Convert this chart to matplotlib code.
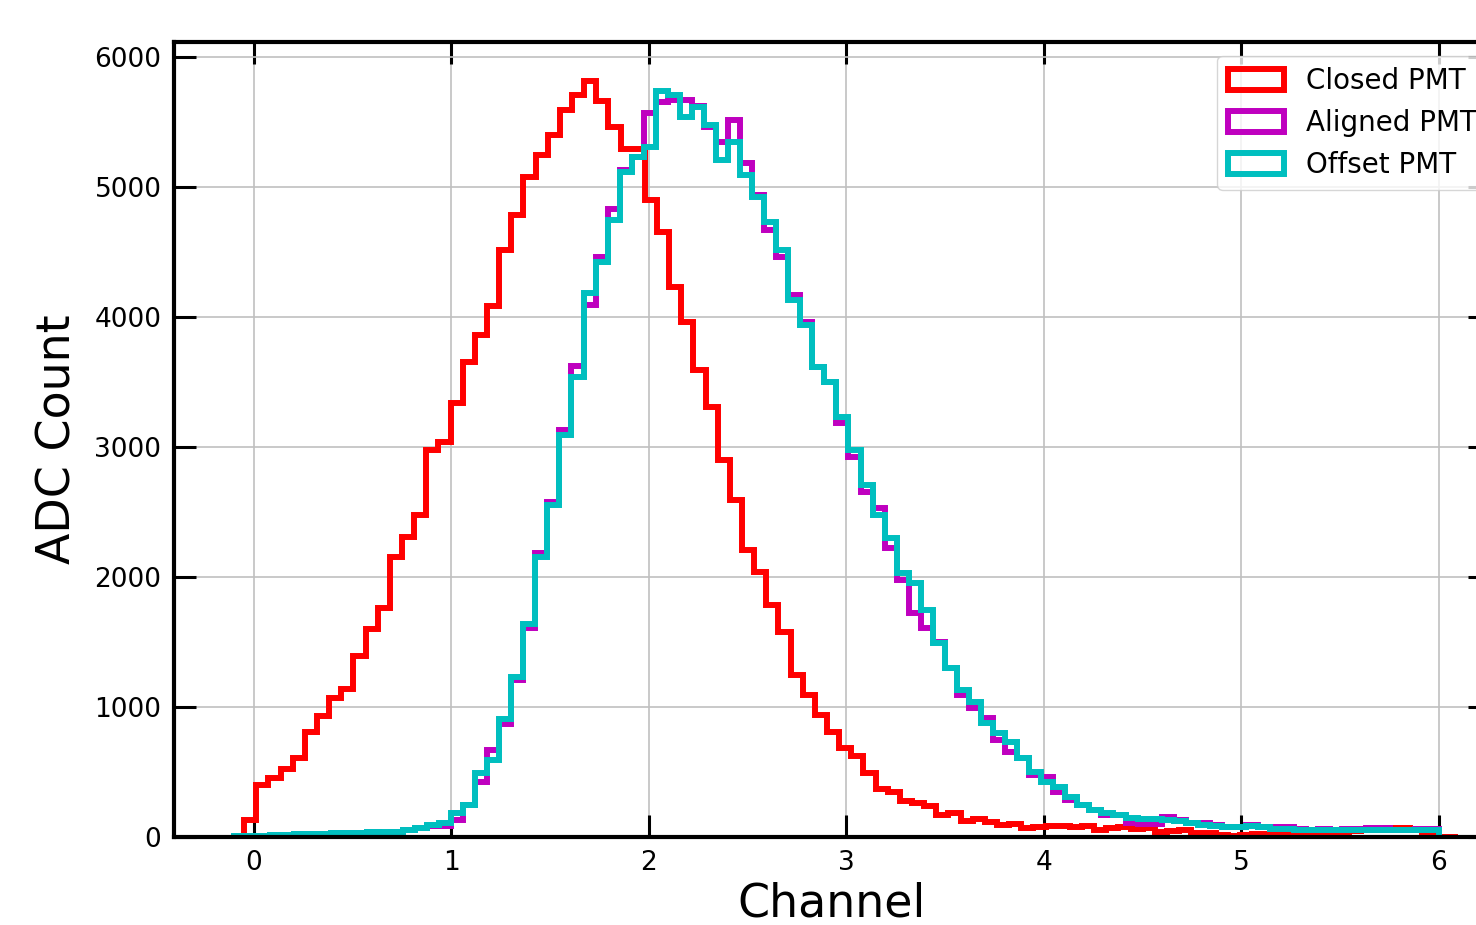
import matplotlib
matplotlib.use("Agg")
import matplotlib.pyplot as plt
import numpy as np

# bin edges (channel) for each data set
closed_edges = np.linspace(-0.05, 6.1, 101)
pmt_edges = np.linspace(-0.1, 6.0, 101)

closed_counts = [
    130, 400, 450, 523, 611, 804, 930, 1073, 1138, 1392,
    1600, 1765, 2150, 2304, 2477, 2977, 3035, 3338, 3650, 3862,
    4085, 4515, 4785, 5073, 5246, 5400, 5592, 5708, 5815, 5662,
    5458, 5292, 5292, 4900, 4650, 4227, 3958, 3592, 3304, 2900,
    2592, 2208, 2035, 1785, 1573, 1246, 1092, 938, 804, 688,
    620, 490, 367, 344, 280, 259, 238, 169, 187, 126,
    136, 118, 92, 100, 67, 79, 85, 85, 79, 85,
    54, 67, 74, 59, 67, 41, 45, 50, 30, 28,
    18, 10, 15, 20, 25, 30, 30, 35, 40, 35,
    40, 45, 50, 55, 68, 68, 50, 40, 0, 0,
]

aligned_counts = [
    8, 8, 10, 15, 15, 22, 25, 25, 28, 28,
    32, 38, 30, 42, 50, 68, 85, 85, 131, 246,
    420, 670, 870, 1208, 1611, 2188, 2573, 3130, 3623, 4090,
    4458, 4830, 5130, 5227, 5570, 5650, 5670, 5670, 5623, 5458,
    5342, 5515, 5188, 4938, 4669, 4458, 4169, 3958, 3612, 3496,
    3188, 2926, 2656, 2528, 2220, 1977, 1720, 1605, 1497, 1297,
    1092, 990, 913, 746, 656, 605, 477, 464, 349, 285,
    246, 208, 169, 169, 105, 100, 100, 151, 130, 110,
    110, 90, 80, 75, 92, 79, 79, 79, 60, 55,
    60, 55, 60, 65, 67, 67, 55, 55, 60, 60,
]

offset_counts = [
    8, 8, 10, 15, 15, 22, 22, 25, 28, 30,
    32, 42, 35, 42, 54, 73, 92, 111, 188, 246,
    496, 592, 908, 1227, 1638, 2150, 2554, 3092, 3535, 4188,
    4419, 4746, 5112, 5227, 5304, 5738, 5708, 5535, 5612, 5477,
    5208, 5342, 5092, 4919, 4727, 4515, 4131, 3938, 3612, 3496,
    3227, 2977, 2708, 2477, 2297, 2028, 1951, 1746, 1490, 1297,
    1131, 1041, 874, 797, 733, 605, 503, 426, 387, 310,
    246, 208, 182, 169, 144, 136, 140, 131, 126, 105,
    92, 87, 79, 74, 87, 74, 62, 62, 54, 54,
    54, 54, 54, 54, 54, 54, 54, 54, 54, 54,
]

fig = plt.figure(figsize=(14.76, 9.25), dpi=100)
ax = fig.add_axes([174 / 1476, 88 / 925, 1316 / 1476, 795 / 925])

ax.hist(closed_edges[:-1], bins=closed_edges, weights=closed_counts,
        histtype='step', color='r', lw=4.3, label='Closed PMT')
ax.hist(pmt_edges[:-1], bins=pmt_edges, weights=aligned_counts,
        histtype='step', color='m', lw=4.3, label='Aligned PMT')
ax.hist(pmt_edges[:-1], bins=pmt_edges, weights=offset_counts,
        histtype='step', color='c', lw=4.3, label='Offset PMT')

ax.set_xlim(-0.405, 6.26)
ax.set_ylim(0, 6115)
ax.set_xticks(range(0, 7))
ax.set_yticks(range(0, 7000, 1000))
ax.grid(True, color='#c0c0c0', lw=1.2)
ax.set_axisbelow(True)

ax.tick_params(direction='in', top=True, right=True, length=16, width=2.2,
               labelsize=19, pad=9)
for s in ax.spines.values():
    s.set_linewidth(3)

ax.set_xlabel('Channel', fontsize=33, labelpad=4)
ax.set_ylabel('ADC Count', fontsize=33, labelpad=10)

ax.legend(loc='upper right', fontsize=20, handleheight=0.8,
          bbox_to_anchor=(1.009, 1.0))

fig.savefig('out.png', dpi=100)
